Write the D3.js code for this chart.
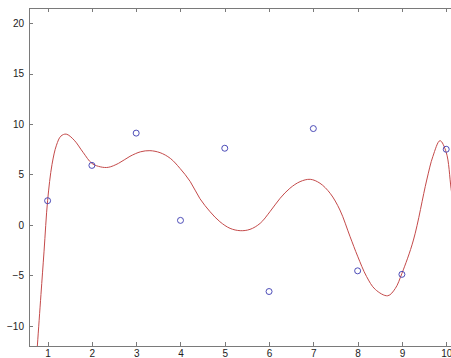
<!DOCTYPE html>
<html><head><meta charset="utf-8">
<script src="https://cdn.jsdelivr.net/npm/d3@7"></script>
<style>body{margin:0;background:#fff;} svg{display:block;}</style>
</head><body>
<svg id="c" width="451" height="358"></svg>
<script>
const dataX = [1,2,3,4,5,6,7,8,9,10];
const dataY = [2.4,5.9,9.1,0.45,7.6,-6.6,9.55,-4.55,-4.9,7.5];
const fitX = [0.72,0.77,0.85,0.92,1.0,1.1,1.2,1.3,1.42,1.6,1.8,2.0,2.2,2.37,2.6,2.86,3.1,3.31,3.54,3.77,3.99,4.22,4.44,4.67,4.89,5.12,5.35,5.57,5.8,6.02,6.25,6.47,6.7,6.93,7.15,7.38,7.6,7.83,8.0,8.2,8.4,8.68,8.85,9.0,9.26,9.56,9.7,9.86,10.0,10.11,10.2];
const fitY = [-15,-11.9,-6.9,-2.6,2.4,6.0,7.9,8.8,9.0,8.4,7.2,6.1,5.75,5.71,6.1,6.8,7.25,7.36,7.16,6.6,5.6,4.3,2.6,1.3,0.32,-0.34,-0.57,-0.44,0.16,1.31,2.64,3.63,4.29,4.52,4.13,3.13,1.48,-1.17,-3.1,-5.1,-6.4,-7.02,-6.3,-4.8,-1.5,4.45,6.8,8.35,7.2,3.6,0.5];
const xTicks = [1,2,3,4,5,6,7,8,9,10];
const yTicks = [-10,-5,0,5,10,15,20];

const svg = d3.select("#c");
const L = 29, T = 8, B = 346, R = 475;
const x = d3.scaleLinear().domain([0.58, 10.65]).range([L, R]);
const y = d3.scaleLinear().domain([-12, 21.5]).range([B, T]);

svg.append("defs").append("clipPath").attr("id","clip")
  .append("rect").attr("x",L).attr("y",T).attr("width",R-L).attr("height",B-T);

const axColor = "#7a7a7a";
svg.append("rect").attr("x",L).attr("y",T).attr("width",R-L).attr("height",B-T)
  .attr("fill","none").attr("stroke",axColor).attr("stroke-width",1)
  .attr("shape-rendering","crispEdges");

function styleAxis(g){
  g.select(".domain").remove();
  g.selectAll(".tick line").attr("stroke",axColor).attr("shape-rendering","crispEdges");
  g.selectAll(".tick text").attr("fill","#222").attr("font-family","Liberation Sans, Arial, sans-serif").attr("font-size","10px");
}
svg.append("g").attr("transform",`translate(0,${B})`)
  .call(d3.axisBottom(x).tickValues(xTicks).tickFormat(d3.format("d")).tickSizeInner(-4).tickPadding(4))
  .call(styleAxis);
svg.append("g").attr("transform",`translate(0,${T})`)
  .call(d3.axisTop(x).tickValues(xTicks).tickFormat("").tickSizeInner(-4))
  .call(styleAxis);
svg.append("g").attr("transform",`translate(${L},0)`)
  .call(d3.axisLeft(y).tickValues(yTicks).tickFormat(d3.format("d")).tickSizeInner(-4).tickPadding(5))
  .call(styleAxis);

const fit = fitX.map((v,i)=>[v,fitY[i]]);
svg.append("path").attr("clip-path","url(#clip)")
  .datum(fit)
  .attr("fill","none").attr("stroke","#c44a4a").attr("stroke-width",1)
  .attr("d", d3.line().x(d=>x(d[0])).y(d=>y(d[1])).curve(d3.curveCatmullRom.alpha(0.5)));

svg.append("g").selectAll("circle").data(dataX.map((v,i)=>[v,dataY[i]])).join("circle")
  .attr("cx",d=>x(d[0])).attr("cy",d=>y(d[1])).attr("r",3)
  .attr("fill","none").attr("stroke","#3a3ab0").attr("stroke-width",0.9);
</script>
</body></html>
